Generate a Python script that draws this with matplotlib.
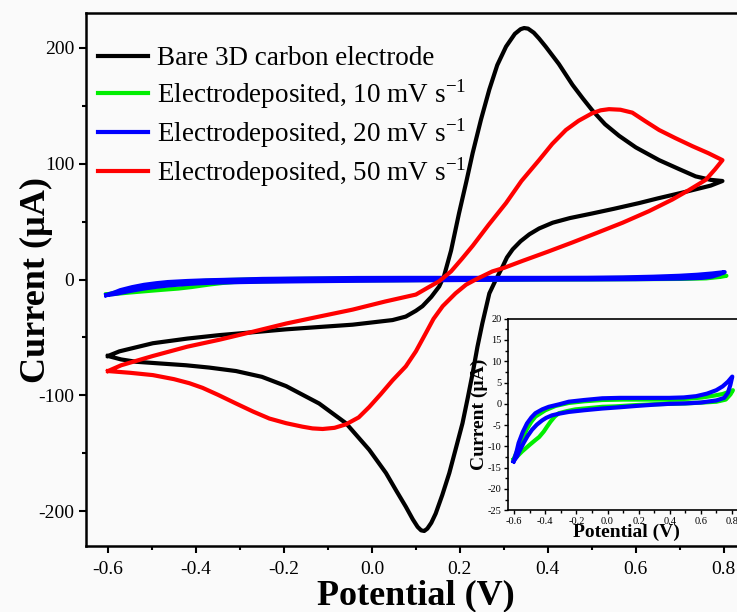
import matplotlib
matplotlib.use('Agg')
import matplotlib.pyplot as plt
from matplotlib.ticker import MultipleLocator

plt.rcParams['font.family'] = ['Liberation Serif', 'DejaVu Serif']
plt.rcParams['mathtext.fontset'] = 'custom'
plt.rcParams['mathtext.rm'] = 'Liberation Serif'
plt.rcParams['axes.unicode_minus'] = False

# Bare 3D carbon electrode (closed CV loop, potential in V, current in uA)
bare_v = [-0.60, -0.574, -0.498, -0.42, -0.347, -0.27, -0.195, -0.12, -0.044, 0.047, 0.077, 0.10, 0.115,
          0.135, 0.153, 0.164, 0.18, 0.198, 0.215, 0.229, 0.248, 0.267, 0.285, 0.305, 0.325, 0.338, 0.346,
          0.355, 0.368, 0.38, 0.395, 0.425, 0.456, 0.48, 0.501, 0.53, 0.562, 0.60, 0.653, 0.70, 0.736,
          0.77, 0.797,
          0.77, 0.706, 0.65, 0.608, 0.55, 0.501, 0.45, 0.411, 0.38, 0.358, 0.338, 0.32, 0.307, 0.297, 0.282,
          0.267, 0.251, 0.24, 0.229, 0.218, 0.206, 0.19, 0.176, 0.16, 0.145, 0.135, 0.126, 0.119, 0.112,
          0.104, 0.093, 0.077, 0.055, 0.032, -0.006, -0.059, -0.12, -0.195, -0.25, -0.309, -0.37, -0.423,
          -0.48, -0.536, -0.57, -0.60]
bare_i = [-66, -62, -55, -51, -48, -45.5, -43, -41, -39, -35, -32, -27, -23,
          -15, -6, 3, 25, 57, 85, 109, 138, 164, 185, 201, 212, 216, 217,
          216.5, 213, 208, 201, 186, 168, 156, 146, 134, 124, 114, 103, 95, 89,
          86, 85,
          81, 75, 70, 66, 61, 57, 53, 49, 44, 39, 33, 26, 19, 11, 0,
          -12, -38, -58, -81, -102, -124, -147, -167, -186, -202, -210, -215, -217, -216.5,
          -213.5, -207, -196, -182, -167, -147, -124, -107, -92, -84, -79, -76, -74,
          -72.5, -71, -69, -66]

# Electrodeposited, 50 mV/s
e50_v = [-0.60, -0.57, -0.498, -0.42, -0.347, -0.27, -0.195, -0.12, -0.044, 0.03, 0.10, 0.125, 0.153,
         0.18, 0.205, 0.229, 0.265, 0.305, 0.34, 0.38, 0.41, 0.441, 0.47, 0.501, 0.52, 0.539, 0.565,
         0.592, 0.62, 0.653, 0.69, 0.729, 0.765, 0.797,
         0.78, 0.759, 0.72, 0.683, 0.63, 0.57, 0.51, 0.456, 0.40, 0.342, 0.30, 0.274, 0.236, 0.214,
         0.19, 0.161, 0.14, 0.123, 0.10, 0.077, 0.047, 0.02, -0.006, -0.03, -0.059, -0.085, -0.112,
         -0.135, -0.158, -0.195, -0.233, -0.27, -0.309, -0.35, -0.385, -0.415, -0.45, -0.498, -0.55, -0.60]
e50_i = [-79, -74, -66, -58, -52, -45, -38, -32, -26, -19, -13, -7.5, -1.5,
         7, 18, 29, 47, 66, 85, 103, 117, 129, 137, 143.5, 146, 147, 146.5,
         144, 137, 129, 122, 115, 109, 103,
         95, 86, 77, 69, 59, 49, 40, 32, 24, 16, 10, 7, 0, -4.5,
         -12, -23, -34, -46, -62, -75, -87, -99, -110, -119, -125, -128, -129,
         -128.5, -127, -124, -120, -114, -107, -99.5, -93.5, -89.5, -86, -82.5, -80.5, -79]

# Electrodeposited, 20 mV/s
e20_v = [-0.604, -0.585, -0.572, -0.545, -0.518, -0.49, -0.464, -0.42, -0.378, -0.31, -0.249, -0.15,
         -0.034, 0.08, 0.182, 0.30, 0.397, 0.49, 0.57, 0.64, 0.699, 0.74, 0.774, 0.802,
         0.79, 0.774, 0.75, 0.70, 0.60, 0.50, 0.397, 0.30, 0.182, 0.08, -0.034, -0.15, -0.249, -0.31,
         -0.357, -0.395, -0.421, -0.455, -0.486, -0.515, -0.54, -0.565, -0.583, -0.604]
e20_i = [-13.5, -11.2, -9.2, -6.6, -4.6, -3.2, -2.2, -1.3, -0.7, -0.1, 0.5, 0.9,
         1.3, 1.4, 1.4, 1.4, 1.4, 1.5, 1.8, 2.4, 3.2, 4.1, 5.2, 6.4,
         4.5, 2.6, 1.4, 0.8, 0.3, 0.1, 0.0, -0.2, -0.5, -0.8, -1.1, -1.5, -1.9, -2.3,
         -2.7, -3.3, -3.9, -4.9, -6.1, -7.6, -9.2, -11.0, -12.4, -13.5]

# Electrodeposited, 10 mV/s
e10_v = [-0.604, -0.58, -0.55, -0.52, -0.49, -0.464, -0.40, -0.335, -0.25, -0.15, -0.034, 0.10, 0.25,
         0.397, 0.52, 0.61, 0.68, 0.74, 0.78, 0.806,
         0.79, 0.76, 0.70, 0.61, 0.50, 0.40, 0.30, 0.18, 0.05, -0.034, -0.12, -0.206, -0.26, -0.313,
         -0.34, -0.367, -0.39, -0.41, -0.44, -0.464, -0.50, -0.55, -0.58, -0.604]
e10_i = [-13.0, -11.0, -8.5, -6.0, -4.2, -3.0, -1.5, -0.5, 0.2, 0.6, 0.9, 1.0, 1.0,
         1.0, 1.2, 1.5, 1.9, 2.3, 2.8, 3.2,
         2.2, 1.0, 0.5, 0.3, 0.1, 0.0, -0.1, -0.3, -0.6, -0.7, -1.0, -1.3, -1.7, -2.2,
         -3.0, -4.2, -5.4, -6.5, -7.8, -8.5, -9.6, -11.2, -12.3, -13.0]

labels = ['Bare 3D carbon electrode',
          r'Electrodeposited, 10 mV s$^{-1}$',
          r'Electrodeposited, 20 mV s$^{-1}$',
          r'Electrodeposited, 50 mV s$^{-1}$']
colors = ['#000000', '#00ee00', '#0000ff', '#ff0000']

fig = plt.figure(figsize=(7.37, 6.12), dpi=100, facecolor='#fafafa')
ax = fig.add_axes([0.1167, 0.1078, 0.894, 0.871], facecolor='#fafafa')

lw = 3.0
ax.plot(bare_v, bare_i, color=colors[0], lw=lw, label=labels[0], solid_joinstyle='round')
ax.plot(e10_v, e10_i, color=colors[1], lw=lw, label=labels[1], solid_joinstyle='round')
ax.plot(e20_v, e20_i, color=colors[2], lw=lw, label=labels[2], solid_joinstyle='round')
ax.plot(e50_v, e50_i, color=colors[3], lw=lw, label=labels[3], solid_joinstyle='round')

ax.set_xlim(-0.65, 0.848)
ax.set_ylim(-230, 230)
ax.xaxis.set_major_locator(MultipleLocator(0.2))
ax.xaxis.set_minor_locator(MultipleLocator(0.1))
ax.yaxis.set_major_locator(MultipleLocator(100))
ax.yaxis.set_minor_locator(MultipleLocator(50))
ax.tick_params(which='both', direction='out', top=False, right=False, labelsize=14, width=1.5)
ax.tick_params(which='major', length=5)
ax.tick_params(which='minor', length=3)
ax.tick_params(axis='x', pad=6)
ax.xaxis.set_major_formatter(plt.FuncFormatter(lambda v, p: f'{v:.1f}'))
for s in ax.spines.values():
    s.set_linewidth(1.8)

ax.set_xlabel('Potential (V)', fontsize=26, fontweight='bold', labelpad=1)
ax.set_ylabel('Current (µA)', fontsize=26, fontweight='bold', labelpad=-11)

leg = ax.legend(loc='upper left', fontsize=19.5, frameon=False, handlelength=1.85,
                handletextpad=0.3, labelspacing=0.2, borderaxespad=0.2,
                bbox_to_anchor=(-0.006, 0.968))
for h in leg.get_lines():
    h.set_linewidth(3)

# inset with the two electrodeposited curves
ins = fig.add_axes([0.6889, 0.1662, 0.322, 0.3131], facecolor='#fafafa')
ins.plot(e10_v, e10_i, color=colors[1], lw=3, solid_joinstyle='round')
ins.plot(e20_v, e20_i, color=colors[2], lw=3, solid_joinstyle='round')
ins.set_xlim(-0.642, 0.884)
ins.set_ylim(-25, 20)
ins.xaxis.set_major_locator(MultipleLocator(0.2))
ins.xaxis.set_minor_locator(MultipleLocator(0.1))
ins.yaxis.set_major_locator(MultipleLocator(5))
ins.yaxis.set_minor_locator(MultipleLocator(2.5))
ins.xaxis.set_major_formatter(plt.FuncFormatter(lambda v, p: f'{v:.1f}'))
ins.tick_params(which='both', direction='out', top=False, right=False, labelsize=7.5, width=1, pad=1.5)
ins.tick_params(which='major', length=3)
ins.tick_params(which='minor', length=2)
for s in ins.spines.values():
    s.set_linewidth(1.2)
ins.set_xlabel('Potential (V)', fontsize=14, fontweight='bold', labelpad=-1)
ins.set_ylabel('Current (µA)', fontsize=14, fontweight='bold', labelpad=0)

fig.savefig('out.png', dpi=100, facecolor=fig.get_facecolor())
